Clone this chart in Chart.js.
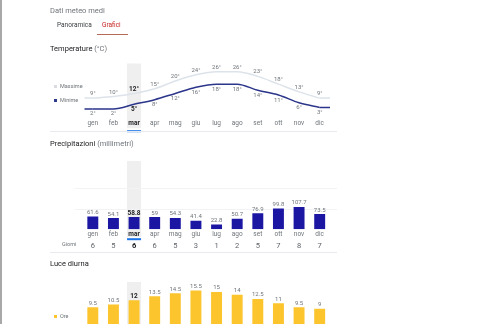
<!DOCTYPE html>
<html lang="it">
<head>
<meta charset="utf-8">
<script src="https://cdn.jsdelivr.net/npm/chart.js@4/dist/chart.umd.min.js"></script>
<style>
  html, body { margin: 0; padding: 0; }
  body {
    width: 500px; height: 324px; overflow: hidden; position: relative;
    background: #fff; font-family: Roboto, Arial, sans-serif;
    border-left: 2px solid #a8a8a8; box-sizing: border-box;
  }
  .t { position: absolute; white-space: nowrap; line-height: 1; will-change: transform; }
  .titolo { font-size: 7.5px; color: #202124; }
  .titolo span { color: #70757a; }
  .leg { font-size: 5.5px; color: #70757a; }
  .sw { position: absolute; width: 3px; height: 3px; }
  .sep { position: absolute; left: 48px; width: 287px; height: 1px; background: #e8eaed; }
  canvas { position: absolute; }
</style>
</head>
<body>

<div class="t" style="left:48px;top:7px;font-size:7.5px;color:#70757a;">Dati meteo medi</div>
<div class="t" style="left:55px;top:22px;font-size:6.5px;color:#3c4043;">Panoramica</div>
<div class="t" style="left:100px;top:22px;font-size:6.5px;color:#c5221f;">Grafici</div>
<div style="position:absolute;left:95px;top:34px;width:31px;height:1px;background:#b46a55;"></div>

<div class="t titolo" style="left:48px;top:45px;">Temperature <span>(°C)</span></div>
<div class="sw" style="left:52px;top:85px;background:#dadce0;"></div>
<div class="t leg" style="left:58px;top:84px;">Massime</div>
<div class="sw" style="left:52px;top:99px;background:#2d3a8c;"></div>
<div class="t leg" style="left:58px;top:98px;">Minime</div>
<canvas id="chartTemp" width="300" height="74" style="left:40px;top:62px;"></canvas>
<div class="sep" style="top:131px;"></div>

<div class="t titolo" style="left:48px;top:140px;">Precipitazioni <span>(millimetri)</span></div>
<div class="t leg" style="left:60px;top:242px;">Giorni</div>
<canvas id="chartPrec" width="300" height="100" style="left:40px;top:156px;"></canvas>
<div class="sep" style="top:252px;"></div>

<div class="t titolo" style="left:48px;top:260px;">Luce diurna</div>
<div class="sw" style="left:52px;top:315px;background:#fcc42d;"></div>
<div class="t leg" style="left:58px;top:314px;">Ore</div>
<canvas id="chartLuce" width="300" height="62" style="left:40px;top:274px;"></canvas>

<script>
// ========================================
// Dati
// ========================================

const mesi = ['gen', 'feb', 'mar', 'apr', 'mag', 'giu', 'lug', 'ago', 'set', 'ott', 'nov', 'dic'];
const tempMassime = [9, 10, 12, 15, 20, 24, 26, 26, 23, 18, 13, 9];
const tempMinime = [2, 2, 5, 8, 12, 16, 18, 18, 14, 11, 6, 3];
const precipitazioni = [61.6, 54.1, 58.8, 59, 54.3, 41.4, 22.8, 50.7, 76.9, 99.8, 107.7, 73.5];
const giorniPioggia = [6, 5, 6, 6, 5, 3, 1, 2, 5, 7, 8, 7];
const oreLuce = [9.5, 10.5, 12, 13.5, 14.5, 15.5, 15, 14, 12.5, 11, 9.5, 9];

// mese selezionato (mar)
const meseSel = 2;

const GRIGIO = '#70757a';
const SCURO = '#202124';
const FONT = 'Roboto, Arial, sans-serif';

// ========================================
// Plugin
// ========================================

// colonna grigia dietro il mese selezionato + sottolineatura blu
// (disegnata prima degli assi, così l'etichetta del mese resta visibile)
const evidenziaMese = {
    id: 'evidenziaMese',
    beforeDraw(chart, args, opts) {
        const ctx = chart.ctx;
        const cx = chart.scales.x.getPixelForValue(meseSel);
        const top = chart.chartArea.top + (opts.dTop || 0);
        const bottom = chart.chartArea.bottom + (opts.dBottom || 0);
        ctx.save();
        ctx.fillStyle = '#efefef';
        ctx.fillRect(cx - 7, top, 14, bottom - top);
        if (opts.lineaY !== undefined) {
            ctx.fillStyle = '#1a73e8';
            ctx.fillRect(cx - 7, chart.chartArea.bottom + opts.lineaY, 14, 2);
        }
        ctx.restore();
    }
};

// griglia orizzontale più larga dell'area del grafico
const grigliaLarga = {
    id: 'grigliaLarga',
    beforeDatasetsDraw(chart, args, opts) {
        if (!opts.attiva) return;
        const ctx = chart.ctx;
        const y = chart.scales.y;
        ctx.save();
        ctx.strokeStyle = '#f1f3f4';
        ctx.lineWidth = 1;
        y.ticks.forEach(t => {
            if (t.value <= 0 || t.value % 100 !== 0) return;
            const py = Math.round(y.getPixelForValue(t.value)) + 0.5;
            ctx.beginPath();
            ctx.moveTo(chart.chartArea.left - 8, py);
            ctx.lineTo(chart.chartArea.right + 7, py);
            ctx.stroke();
        });
        ctx.restore();
    }
};

// prolunga le linee fino ai bordi
const prolungaLinee = {
    id: 'prolungaLinee',
    beforeDatasetsDraw(chart) {
        if (chart.config.type !== 'line') return;
        const ctx = chart.ctx;
        chart.data.datasets.forEach((ds, di) => {
            const pts = chart.getDatasetMeta(di).data;
            if (!pts.length) return;
            ctx.save();
            ctx.strokeStyle = ds.borderColor;
            ctx.lineWidth = ds.borderWidth;
            ctx.beginPath();
            ctx.moveTo(chart.chartArea.left + 2, pts[0].y);
            ctx.lineTo(pts[0].x, pts[0].y);
            ctx.moveTo(pts[pts.length - 1].x, pts[pts.length - 1].y);
            ctx.lineTo(chart.chartArea.right, pts[pts.length - 1].y);
            ctx.stroke();
            ctx.restore();
        });
    }
};

// etichette dei valori
const etichette = {
    id: 'etichette',
    afterDatasetsDraw(chart, args, opts) {
        const ctx = chart.ctx;
        ctx.save();
        ctx.textAlign = 'center';
        ctx.textBaseline = 'middle';
        chart.data.datasets.forEach((ds, di) => {
            const offset = opts.offsets[di];
            chart.getDatasetMeta(di).data.forEach((el, i) => {
                const sel = i === meseSel;
                ctx.font = (sel ? 'bold 6.5px ' : '6px ') + FONT;
                ctx.fillStyle = sel ? SCURO : GRIGIO;
                ctx.fillText(ds.data[i] + (opts.suffisso || ''), el.x, el.y + offset);
            });
        });
        ctx.restore();
    }
};

Chart.register(evidenziaMese, grigliaLarga, prolungaLinee, etichette);

// ========================================
// Opzioni comuni
// ========================================

function assexMesi(padding) {
    return {
        type: 'category',
        offset: true,
        grid: { display: false, drawTicks: false },
        border: { display: false },
        ticks: {
            padding: padding,
            autoSkip: false,
            maxRotation: 0,
            color: c => c.index === meseSel ? SCURO : GRIGIO,
            font: c => ({ family: FONT, size: 6.5, weight: c.index === meseSel ? 'bold' : 'normal' })
        }
    };
}

const base = {
    responsive: false,
    animation: false,
    events: [],
    plugins: { legend: { display: false }, tooltip: { enabled: false } }
};

// ========================================
// Temperature
// ========================================

new Chart(document.getElementById('chartTemp'), {
    type: 'line',
    data: {
        labels: mesi,
        datasets: [{
            label: 'Massime',
            data: tempMassime,
            borderColor: '#dde3ea',
            borderWidth: 1.5,
            pointRadius: 0,
            cubicInterpolationMode: 'monotone'
        }, {
            label: 'Minime',
            data: tempMinime,
            borderColor: '#2b358a',
            borderWidth: 1.5,
            pointRadius: 0,
            cubicInterpolationMode: 'monotone'
        }]
    },
    options: {
        ...base,
        layout: { padding: { left: 40.5, right: 12, top: 3.5, bottom: 5 } },
        scales: {
            x: assexMesi(4),
            y: { display: false, min: -2, max: 30 }
        },
        plugins: {
            ...base.plugins,
            evidenziaMese: { dTop: -2, dBottom: 13, lineaY: 15 },
            etichette: { offsets: [-4.5, 5], suffisso: '°' }
        }
    }
});

// ========================================
// Precipitazioni
// ========================================

new Chart(document.getElementById('chartPrec'), {
    type: 'bar',
    data: {
        labels: mesi,
        datasets: [{
            label: 'Precipitazioni',
            data: precipitazioni,
            backgroundColor: '#1c17a3',
            categoryPercentage: 1,
            barPercentage: 0.53
        }]
    },
    options: {
        ...base,
        layout: { padding: { left: 40.5, right: 12, top: 5, bottom: 3 } },
        scales: {
            x: assexMesi(1.5),
            x2: {
                type: 'category',
                labels: giorniPioggia,
                offset: true,
                position: 'bottom',
                weight: 1,
                grid: { display: false, drawTicks: false },
                border: { display: false },
                ticks: {
                    padding: 2,
                    autoSkip: false,
                    maxRotation: 0,
                    color: c => c.index === meseSel ? SCURO : '#5f6368',
                    font: c => ({ family: FONT, size: 7.5, weight: c.index === meseSel ? 'bold' : 'normal' })
                }
            },
            y: { display: false, min: 0, max: 330, ticks: { stepSize: 100 } }
        },
        plugins: {
            ...base.plugins,
            evidenziaMese: { dTop: 0, dBottom: 8, lineaY: 9 },
            grigliaLarga: { attiva: true },
            etichette: { offsets: [-4] }
        }
    }
});

// ========================================
// Luce diurna
// ========================================

new Chart(document.getElementById('chartLuce'), {
    type: 'bar',
    data: {
        labels: mesi,
        datasets: [{
            label: 'Ore',
            data: oreLuce,
            backgroundColor: '#fcc42d',
            categoryPercentage: 1,
            barPercentage: 0.53
        }]
    },
    options: {
        ...base,
        layout: { padding: { left: 40.5, right: 12, top: 9.5, bottom: 2 } },
        scales: {
            x: { ...assexMesi(2), display: false },
            y: { display: false, min: 0, max: 18 }
        },
        plugins: {
            ...base.plugins,
            evidenziaMese: { dTop: -1.5, dBottom: 0 },
            etichette: { offsets: [-4] }
        }
    }
});
</script>
</body>
</html>
